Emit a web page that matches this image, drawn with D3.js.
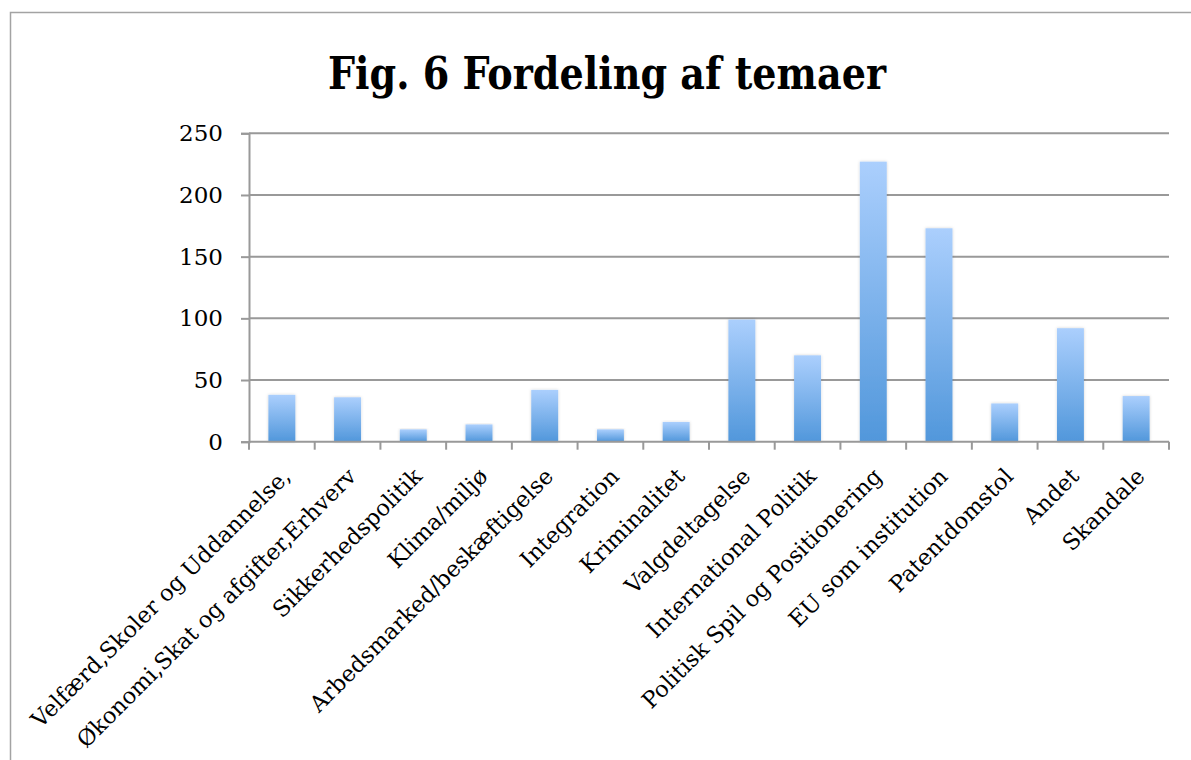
<!DOCTYPE html>
<html>
<head>
<meta charset="utf-8">
<script src="https://cdn.jsdelivr.net/npm/d3@7"></script>
<style>
  body { margin: 0; background: #fff; }
  svg { display: block; }
</style>
</head>
<body>
<div class="chart"></div>
<script>
// categories and counts
var categories = [
  "Velfærd,Skoler og Uddannelse,",
  "Økonomi,Skat og afgifter,Erhverv",
  "Sikkerhedspolitik",
  "Klima/miljø",
  "Arbedsmarked/beskæftigelse",
  "Integration",
  "Kriminalitet",
  "Valgdeltagelse",
  "International Politik",
  "Politisk Spil og Positionering",
  "EU som institution",
  "Patentdomstol",
  "Andet",
  "Skandale"
];
var counts = [38, 36, 10, 14, 42, 10, 16, 99, 70, 227, 173, 31, 92, 37];
var yTicks = [0, 50, 100, 150, 200, 250];
var title = "Fig. 6 Fordeling af temaer";

var width = 1191, height = 760;
var plotLeft = 249, plotRight = 1169, plotTop = 133.3, plotBottom = 441.7;

var svg = d3.select(".chart")
  .append("svg")
  .attr("width", width)
  .attr("height", height);

// bar gradient
var defs = svg.append("defs");
var grad = defs.append("linearGradient")
  .attr("id", "barGrad")
  .attr("x1", 0).attr("y1", 0).attr("x2", 0).attr("y2", 1);
grad.append("stop").attr("offset", "0%").attr("stop-color", "#abcffd");
grad.append("stop").attr("offset", "100%").attr("stop-color", "#5197db");

var shadow = defs.append("filter").attr("id", "shadow")
  .attr("x", "-20%").attr("y", "-5%").attr("width", "140%").attr("height", "110%");
shadow.append("feDropShadow")
  .attr("dx", 0).attr("dy", 0).attr("stdDeviation", 1.5)
  .attr("flood-color", "#000").attr("flood-opacity", 0.18);

// outer frame (runs off the page at right and bottom)
svg.append("rect")
  .attr("x", 10.5).attr("y", 12.5)
  .attr("width", 1300).attr("height", 900)
  .attr("fill", "none")
  .attr("stroke", "#a3a3a3")
  .attr("stroke-width", 1.5);

svg.append("text")
  .attr("x", 607)
  .attr("y", 89)
  .attr("text-anchor", "middle")
  .style("font-family", "'DejaVu Serif Condensed', 'DejaVu Serif', serif")
  .style("font-weight", "bold")
  .style("font-size", "44px")
  .attr("textLength", 558)
  .attr("lengthAdjust", "spacingAndGlyphs")
  .text(title);

var x = d3.scaleBand()
  .domain(categories)
  .range([plotLeft, plotRight])
  .paddingInner(0.59)
  .paddingOuter(0.295);

var y = d3.scaleLinear()
  .domain([0, 250])
  .range([plotBottom, plotTop]);

var gridColor = "#999999";

// gridlines
svg.append("g")
  .selectAll("line")
  .data(yTicks.slice(1))
  .enter()
  .append("line")
  .attr("x1", plotLeft)
  .attr("x2", plotRight)
  .attr("y1", function (d) { return y(d); })
  .attr("y2", function (d) { return y(d); })
  .attr("stroke", gridColor)
  .attr("stroke-width", 2);

// y axis
var yAxis = svg.append("g")
  .attr("transform", "translate(" + plotLeft + ",0)")
  .call(d3.axisLeft(y).tickValues(yTicks).tickSize(8).tickPadding(18));
yAxis.select(".domain").attr("stroke", gridColor).attr("stroke-width", 2);
yAxis.selectAll(".tick line").attr("stroke", gridColor).attr("stroke-width", 2);
yAxis.selectAll(".tick text")
  .style("font-family", "'DejaVu Serif', serif")
  .style("font-size", "23px")
  .attr("fill", "#000");

// bars
svg.append("g")
  .selectAll("rect")
  .data(counts)
  .enter()
  .append("rect")
  .attr("x", function (d, i) { return x(categories[i]); })
  .attr("width", x.bandwidth())
  .attr("y", function (d) { return y(d); })
  .attr("height", function (d) { return y(0) - y(d); })
  .attr("fill", "url(#barGrad)")
  .attr("filter", "url(#shadow)");

// x axis: ticks sit at band boundaries
var step = x.step();
var bounds = d3.range(categories.length + 1).map(function (i) { return plotLeft + i * step; });
svg.append("line")
  .attr("x1", plotLeft).attr("x2", plotRight)
  .attr("y1", plotBottom).attr("y2", plotBottom)
  .attr("stroke", gridColor).attr("stroke-width", 2);
svg.append("g")
  .selectAll("line")
  .data(bounds)
  .enter()
  .append("line")
  .attr("x1", function (d) { return d; })
  .attr("x2", function (d) { return d; })
  .attr("y1", plotBottom)
  .attr("y2", plotBottom + 8)
  .attr("stroke", gridColor)
  .attr("stroke-width", 2);

// rotated category labels
svg.append("g")
  .selectAll("text")
  .data(categories)
  .enter()
  .append("text")
  .attr("transform", function (d) {
    var cx = x(d) + x.bandwidth() / 2;
    return "translate(" + (cx + 10) + "," + (plotBottom + 36) + ") rotate(-45)";
  })
  .attr("text-anchor", "end")
  .style("font-family", "'DejaVu Serif', serif")
  .style("font-size", "22.5px")
  .attr("fill", "#000")
  .text(function (d) { return d; });
</script>
</body>
</html>
